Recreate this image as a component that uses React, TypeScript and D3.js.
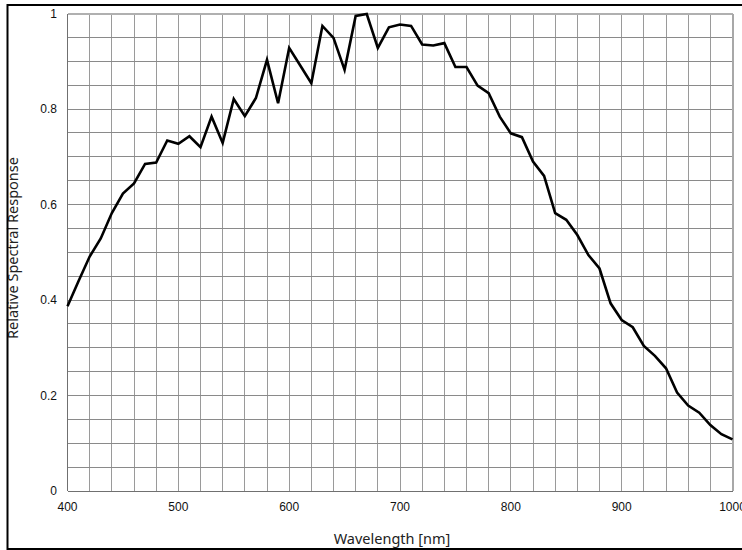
import React from "react";
import * as d3 from "d3";

const wavelengths: number[] = [
  400, 410, 420, 430, 440, 450, 460, 470, 480, 490,
  500, 510, 520, 530, 540, 550, 560, 570, 580, 590,
  600, 610, 620, 630, 640, 650, 660, 670, 680, 690,
  700, 710, 720, 730, 740, 750, 760, 770, 780, 790,
  800, 810, 820, 830, 840, 850, 860, 870, 880, 890,
  900, 910, 920, 930, 940, 950, 960, 970, 980, 990, 1000,
];
const response: number[] = [
  0.387, 0.44, 0.491, 0.529, 0.582, 0.623, 0.644, 0.685, 0.688, 0.734,
  0.727, 0.743, 0.72, 0.784, 0.729, 0.821, 0.785, 0.823, 0.903, 0.812,
  0.928, 0.891, 0.854, 0.974, 0.949, 0.882, 0.995, 0.999, 0.928, 0.971,
  0.977, 0.974, 0.935, 0.933, 0.938, 0.888, 0.888, 0.849, 0.833, 0.784,
  0.749, 0.741, 0.69, 0.66, 0.582, 0.568, 0.536, 0.494, 0.466, 0.393,
  0.358, 0.343, 0.304, 0.283, 0.257, 0.206, 0.179, 0.164, 0.138, 0.119, 0.108,
];
const xTicks: number[] = [400, 500, 600, 700, 800, 900, 1000];
const yTicks: number[] = [0, 0.2, 0.4, 0.6, 0.8, 1];
const xTitle = "Wavelength [nm]";
const yTitle = "Relative Spectral Response";

const W = 742;
const H = 550;
const left = 67.5;
const right = 732.5;
const top = 13.5;
const bottom = 491;

export default function App() {
  const x = d3.scaleLinear().domain([400, 1000]).range([left, right]);
  const y = d3.scaleLinear().domain([0, 1]).range([bottom, top]);
  const xGrid = d3.range(400, 1001, 20);
  const yGrid = d3.range(0, 1.0001, 0.05);
  const pts = wavelengths.map((w, i) => [w, response[i]] as [number, number]);
  const line = d3
    .line<[number, number]>()
    .x((d) => x(d[0]))
    .y((d) => y(d[1]));
  const tickFont = "'Liberation Sans', Arial, sans-serif";
  const titleFont = "'Noto Sans', 'Open Sans', sans-serif";
  return (
    <svg
      width={W}
      height={H}
      style={{ position: "absolute", left: 0, top: 0, background: "#fff" }}
    >
      <rect x={0} y={0} width={W} height={H} fill="#fff" />
      <g shapeRendering="crispEdges">
        {xGrid.map((g) => (
          <line
            key={"xg" + g}
            x1={x(g)}
            x2={x(g)}
            y1={top}
            y2={bottom}
            stroke="#9a9a9a"
            strokeWidth={1}
          />
        ))}
        {yGrid.map((g) => (
          <line
            key={"yg" + g}
            x1={left}
            x2={right}
            y1={y(g)}
            y2={y(g)}
            stroke="#8a8a8a"
            strokeWidth={1}
          />
        ))}
        <line x1={left} x2={right} y1={top} y2={top} stroke="#b0b0b0" strokeWidth={2} />
        <line x1={right} x2={right} y1={top} y2={bottom} stroke="#a8a8a8" strokeWidth={2} />
        <line x1={left} x2={left} y1={top} y2={bottom} stroke="#707070" strokeWidth={1} />
        <line x1={left} x2={right} y1={bottom} y2={bottom} stroke="#707070" strokeWidth={1} />
      </g>
      <path
        d={line(pts) || ""}
        fill="none"
        stroke="#000"
        strokeWidth={2.6}
        strokeLinejoin="miter"
      />
      {yTicks.map((t) => (
        <text
          key={"yt" + t}
          x={57}
          y={y(t)}
          dy="0.35em"
          textAnchor="end"
          fontFamily={tickFont}
          fontSize={12}
          fill="#111"
        >
          {String(t)}
        </text>
      ))}
      {xTicks.map((t) => (
        <text
          key={"xt" + t}
          x={x(t)}
          y={511}
          textAnchor="middle"
          fontFamily={tickFont}
          fontSize={12}
          fill="#111"
        >
          {String(t)}
        </text>
      ))}
      <text
        x={392}
        y={544}
        textAnchor="middle"
        fontFamily={titleFont}
        fontSize={14.5}
        fill="#222"
      >
        {xTitle}
      </text>
      <text
        transform={`translate(18, 248) rotate(-90)`}
        textAnchor="middle"
        fontFamily={titleFont}
        fontSize={14.5}
        fill="#222"
      >
        {yTitle}
      </text>
      <rect
        x={7.5}
        y={5}
        width={W + 10}
        height={544}
        fill="none"
        stroke="#000"
        strokeWidth={2}
      />
    </svg>
  );
}
